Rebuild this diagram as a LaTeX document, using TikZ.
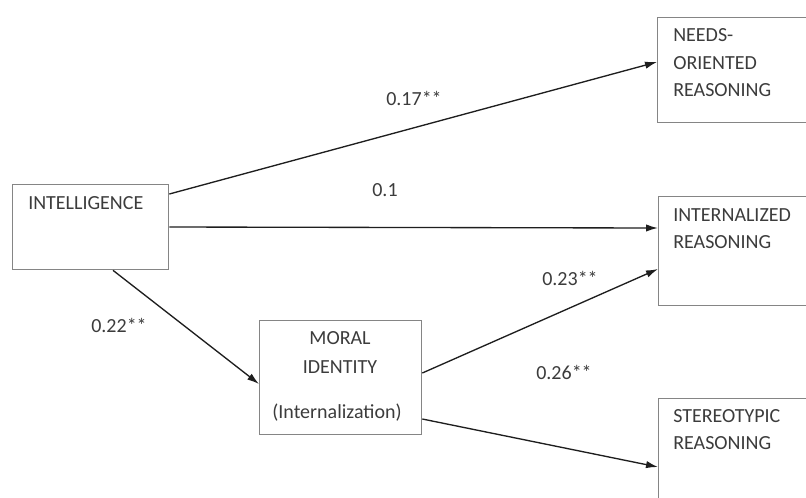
\documentclass[tikz,border=0pt]{standalone}
\usepackage{fontspec}
\setmainfont{Carlito}
\usetikzlibrary{arrows.meta,calc}
\definecolor{txt}{HTML}{3C3C3C}
\definecolor{frame}{HTML}{858585}
\definecolor{arr}{HTML}{1E1E1E}
\begin{document}
\begin{tikzpicture}[x=0.75pt,y=-0.75pt,
  box/.style={draw=frame,line width=1pt,rectangle,inner sep=0pt,anchor=north west},
  lbl/.style={text=txt,font=\fontsize{15}{18}\selectfont,inner sep=0pt},
  btxt/.style={text=txt,font=\fontsize{15}{18}\selectfont,inner sep=0pt,anchor=west},
  conn/.style={draw=arr,line width=1pt,-{Latex[length=9pt,width=5.5pt]}}]
\useasboundingbox (0,0) rectangle (806,497);
\fill[white] (0,0) rectangle (806,497);
\clip (0,0) rectangle (806,497);
% boxes
\node[box,minimum width=117pt,minimum height=63.75pt] (intel) at (12,184) {};
\node[box,minimum width=121.5pt,minimum height=85.5pt] (moral) at (259,320) {};
\node[box,minimum width=130pt,minimum height=78.75pt] (needs) at (657,17) {};
\node[box,minimum width=130pt,minimum height=81.75pt] (intern) at (658,196) {};
\node[box,minimum width=130pt,minimum height=90pt] (stereo) at (658,398) {};
% box texts
\node[btxt] (tintel) at (28,203) {INTELLIGENCE};
\node[lbl] (tmoral1) at (340,338) {MORAL};
\node[lbl] (tmoral2) at (340,367) {IDENTITY};
\node[lbl] (tmoral3) at (337,413) {(Internalization)};
\node[btxt] (tneeds1) at (673,35) {NEEDS-};
\node[btxt] (tneeds2) at (673,63) {ORIENTED};
\node[btxt] (tneeds3) at (673,90) {REASONING};
\node[btxt] (tintern1) at (673,215) {INTERNALIZED};
\node[btxt] (tintern2) at (673,242) {REASONING};
\node[btxt] (tstereo1) at (673,416) {STEREOTYPIC};
\node[btxt] (tstereo2) at (673,443) {REASONING};
% connectors
\draw[conn] ($(intel.north east)+(0,10)$) -- ($(needs.north west)+(0,45)$);
\draw[conn] ($(intel.north east)+(0,43)$) -- ($(intern.north west)+(0,32)$);
\draw[conn] ($(intel.south west)+(101,0)$) -- ($(moral.north west)+(0,64)$);
\draw[conn] ($(moral.north east)+(0,53)$) -- ($(intern.north west)+(0,73)$);
\draw[conn] ($(moral.north east)+(0,99)$) -- ($(stereo.north west)+(0,69)$);
% coefficient labels
\node[lbl] (l17) at (414,98) {0.17**};
\node[lbl] (l1) at (385,190) {0.1};
\node[lbl] (l23) at (570,278) {0.23**};
\node[lbl] (l26) at (564,372) {0.26**};
\node[lbl] (l22) at (119,325) {0.22**};
\end{tikzpicture}
\end{document}
